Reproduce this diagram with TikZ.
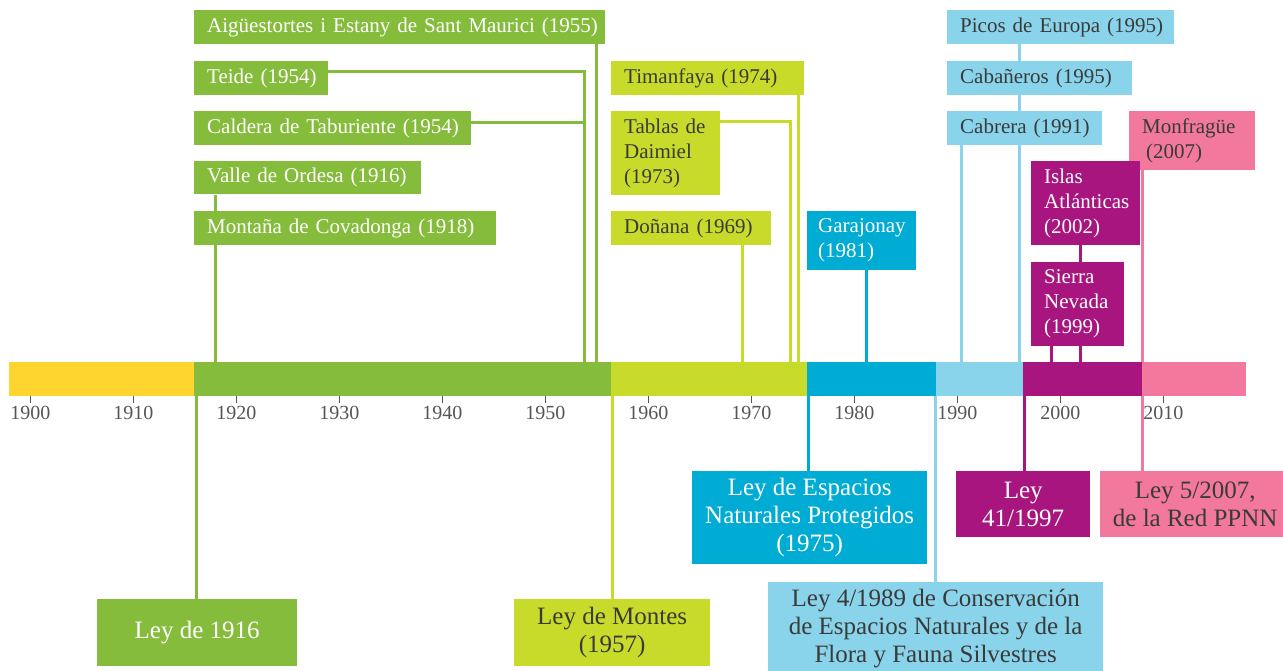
\documentclass[tikz,border=0pt]{standalone}
\usepackage{fontspec}
\setmainfont{Liberation Serif}
\usetikzlibrary{backgrounds}

\definecolor{cyellow}{HTML}{FDD52E}
\definecolor{cgreen}{HTML}{86BC3C}
\definecolor{clime}{HTML}{C9DB2A}
\definecolor{cblue}{HTML}{00ABD4}
\definecolor{clight}{HTML}{89D4EB}
\definecolor{cmagenta}{HTML}{A8157E}
\definecolor{cpink}{HTML}{F2789E}
\definecolor{cdark}{HTML}{3A3A39}
\definecolor{cgray}{HTML}{555555}

\tikzstyle{period}=[anchor=north west,inner sep=0pt,minimum height=33.5pt]
\tikzstyle{park}=[anchor=north west,inner xsep=13pt,inner ysep=0pt,align=left,font=\fontsize{21}{25}\selectfont]
\tikzstyle{greenpark}=[park,fill=cgreen,text=white]
\tikzstyle{limepark}=[park,fill=clime,text=cdark]
\tikzstyle{bluepark}=[park,fill=cblue,text=white]
\tikzstyle{lightpark}=[park,fill=clight,text=cdark]
\tikzstyle{magentapark}=[park,fill=cmagenta,text=white]
\tikzstyle{pinkpark}=[park,fill=cpink,text=cdark]
\tikzstyle{law}=[anchor=north west,inner sep=0pt,align=center,font=\fontsize{25}{28}\selectfont]
\tikzstyle{link}=[line width=3pt]
\tikzstyle{yeartick}=[cgray,line width=0.8pt]
\tikzstyle{yearlabel}=[cgray,font=\fontsize{20}{24}\selectfont]

\begin{document}
\begin{tikzpicture}[x=1pt,y=-1pt]
\useasboundingbox (0,0) rectangle (1283,671);

\node[period,fill=cyellow,minimum width=185pt] (B1) at (9,362) {};
\node[period,fill=cgreen,minimum width=417pt] (B2) at (194,362) {};
\node[period,fill=clime,minimum width=196pt] (B3) at (611,362) {};
\node[period,fill=cblue,minimum width=129pt] (B4) at (807,362) {};
\node[period,fill=clight,minimum width=87pt] (B5) at (936,362) {};
\node[period,fill=cmagenta,minimum width=119pt] (B6) at (1023,362) {};
\node[period,fill=cpink,minimum width=104pt] (B7) at (1142,362) {};

\foreach \i in {0,...,11}{
  \pgfmathsetmacro{\tx}{30.3+103*\i}
  \pgfmathtruncatemacro{\yr}{1900+10*\i}
  \draw[yeartick] (\tx,395.5) -- (\tx,403);
  \node[yearlabel] (Y\i) at (\tx,413) {\yr};
}

\node[greenpark,text width=385pt,minimum height=33.7pt] (P1) at (194,10) {\mbox{Aigüestortes i Estany de Sant Maurici (1955)}};
\node[greenpark,text width=108pt,minimum height=33.7pt] (P2) at (194,61) {\mbox{Teide (1954)}};
\node[greenpark,text width=251pt,minimum height=33.7pt] (P3) at (194,111) {\mbox{Caldera de Taburiente (1954)}};
\node[greenpark,text width=201pt,minimum height=33.3pt] (P4) at (194,161) {\mbox{Valle de Ordesa (1916)}};
\node[greenpark,text width=276pt,minimum height=33.7pt] (P5) at (194,211) {\mbox{Montaña de Covadonga (1918)}};

\node[limepark,text width=167pt,minimum height=33.7pt] (P6) at (611,61) {\mbox{Timanfaya (1974)}};
\node[limepark,text width=83pt,minimum height=83.7pt] (P7) at (611,111) {\mbox{Tablas de}\\Daimiel\\(1973)};
\node[limepark,text width=134pt,minimum height=33.7pt] (P8) at (611,211) {\mbox{Doñana (1969)}};

\node[bluepark,inner xsep=11pt,text width=87pt,minimum height=58.7pt] (P9) at (807,211) {Garajonay\\(1981)};

\node[lightpark,text width=201pt,minimum height=33.7pt] (P10) at (947,10) {\mbox{Picos de Europa (1995)}};
\node[lightpark,text width=159pt,minimum height=33.7pt] (P11) at (947,61) {\mbox{Cabañeros (1995)}};
\node[lightpark,text width=129pt,minimum height=33.7pt] (P12) at (947,111) {\mbox{Cabrera (1991)}};

\node[pinkpark,text width=100pt,minimum height=58.7pt] (P13) at (1129,111) {Monfragüe\\\hspace*{4pt}(2007)};
\node[magentapark,text width=83pt,minimum height=83.7pt] (P14) at (1031,161) {Islas\\Atlánticas\\(2002)};
\node[magentapark,text width=67pt,minimum height=83.7pt] (P15) at (1031,262) {Sierra\\Nevada\\(1999)};

\node[law,fill=cgreen,text=white,minimum width=200pt,minimum height=67pt] (L1) at (97,599) {Ley de 1916};
\node[law,fill=clime,text=cdark,minimum width=196pt,minimum height=67pt] (L2) at (514,599) {Ley de Montes\\(1957)};
\node[law,fill=cblue,text=white,minimum width=235pt,minimum height=93pt] (L3) at (692,471) {Ley de Espacios\\Naturales Protegidos\\(1975)};
\node[law,fill=clight,text=cdark,minimum width=335pt,minimum height=92pt] (L4) at (768,582) {Ley 4/1989 de Conservación\\de Espacios Naturales y de la\\Flora y Fauna Silvestres};
\node[law,fill=cmagenta,text=white,minimum width=134pt,minimum height=66pt] (L5) at (956,471) {Ley\\41/1997};
\node[law,fill=cpink,text=cdark,minimum width=190pt,minimum height=66pt] (L6) at (1100,471) {Ley 5/2007,\\de la Red PPNN};

\coordinate (T1918) at (215,362);
\coordinate (T1954) at (584.5,362);
\coordinate (T1955) at (596.7,362);
\coordinate (T1969) at (742.3,362);
\coordinate (T1973) at (790.7,362);
\coordinate (T1974) at (798.7,362);
\coordinate (T1981) at (866.3,362);
\coordinate (T1991) at (961.7,362);
\coordinate (T1995) at (1019.5,362);
\coordinate (T1999) at (1051.7,362);
\coordinate (T2002) at (1080.7,362);
\coordinate (T2007) at (1142.3,362);
\coordinate (D1916) at (196.3,395.5);
\coordinate (D1957) at (612.3,395.5);
\coordinate (D1975) at (808.3,395.5);
\coordinate (D1989) at (935.5,395.5);
\coordinate (D1997) at (1024,395.5);
\coordinate (D2007) at (1142.3,395.5);

\begin{scope}[on background layer]
\draw[link,cgreen] (P1.south -| T1955) -- (T1955);
\draw[link,cgreen] ([yshift=6.5pt]P2.east) -| (T1954);
\draw[link,cgreen] ([yshift=5.5pt]P3.east) -- ([yshift=5.5pt]P3.east -| T1954);
\draw[link,cgreen] (P4.south -| T1918) -- (T1918);

\draw[link,clime] (P6.south -| T1974) -- (T1974);
\draw[link,clime] ([yshift=-10.7pt]P7.north east) -| (T1973);
\draw[link,clime] (P8.south -| T1969) -- (T1969);

\draw[link,cblue] (P9.south -| T1981) -- (T1981);

\draw[link,clight] (P10.south -| T1995) -- (T1995);
\draw[link,clight] (P12.south -| T1991) -- (T1991);

\draw[link,cpink] (P13.south -| T2007) -- (T2007);
\draw[link,cmagenta] (P14.south -| T2002) -- (T2002);
\draw[link,cmagenta] (P15.south -| T1999) -- (T1999);

\draw[link,cgreen] (D1916) -- (D1916 |- L1.north);
\draw[link,clime] (D1957) -- (D1957 |- L2.north);
\draw[link,cblue] (D1975) -- (D1975 |- L3.north);
\draw[link,clight] (D1989) -- (D1989 |- L4.north);
\draw[link,cmagenta] (D1997) -- (D1997 |- L5.north);
\draw[link,cpink] (D2007) -- (D2007 |- L6.north);
\end{scope}

\end{tikzpicture}
\end{document}
